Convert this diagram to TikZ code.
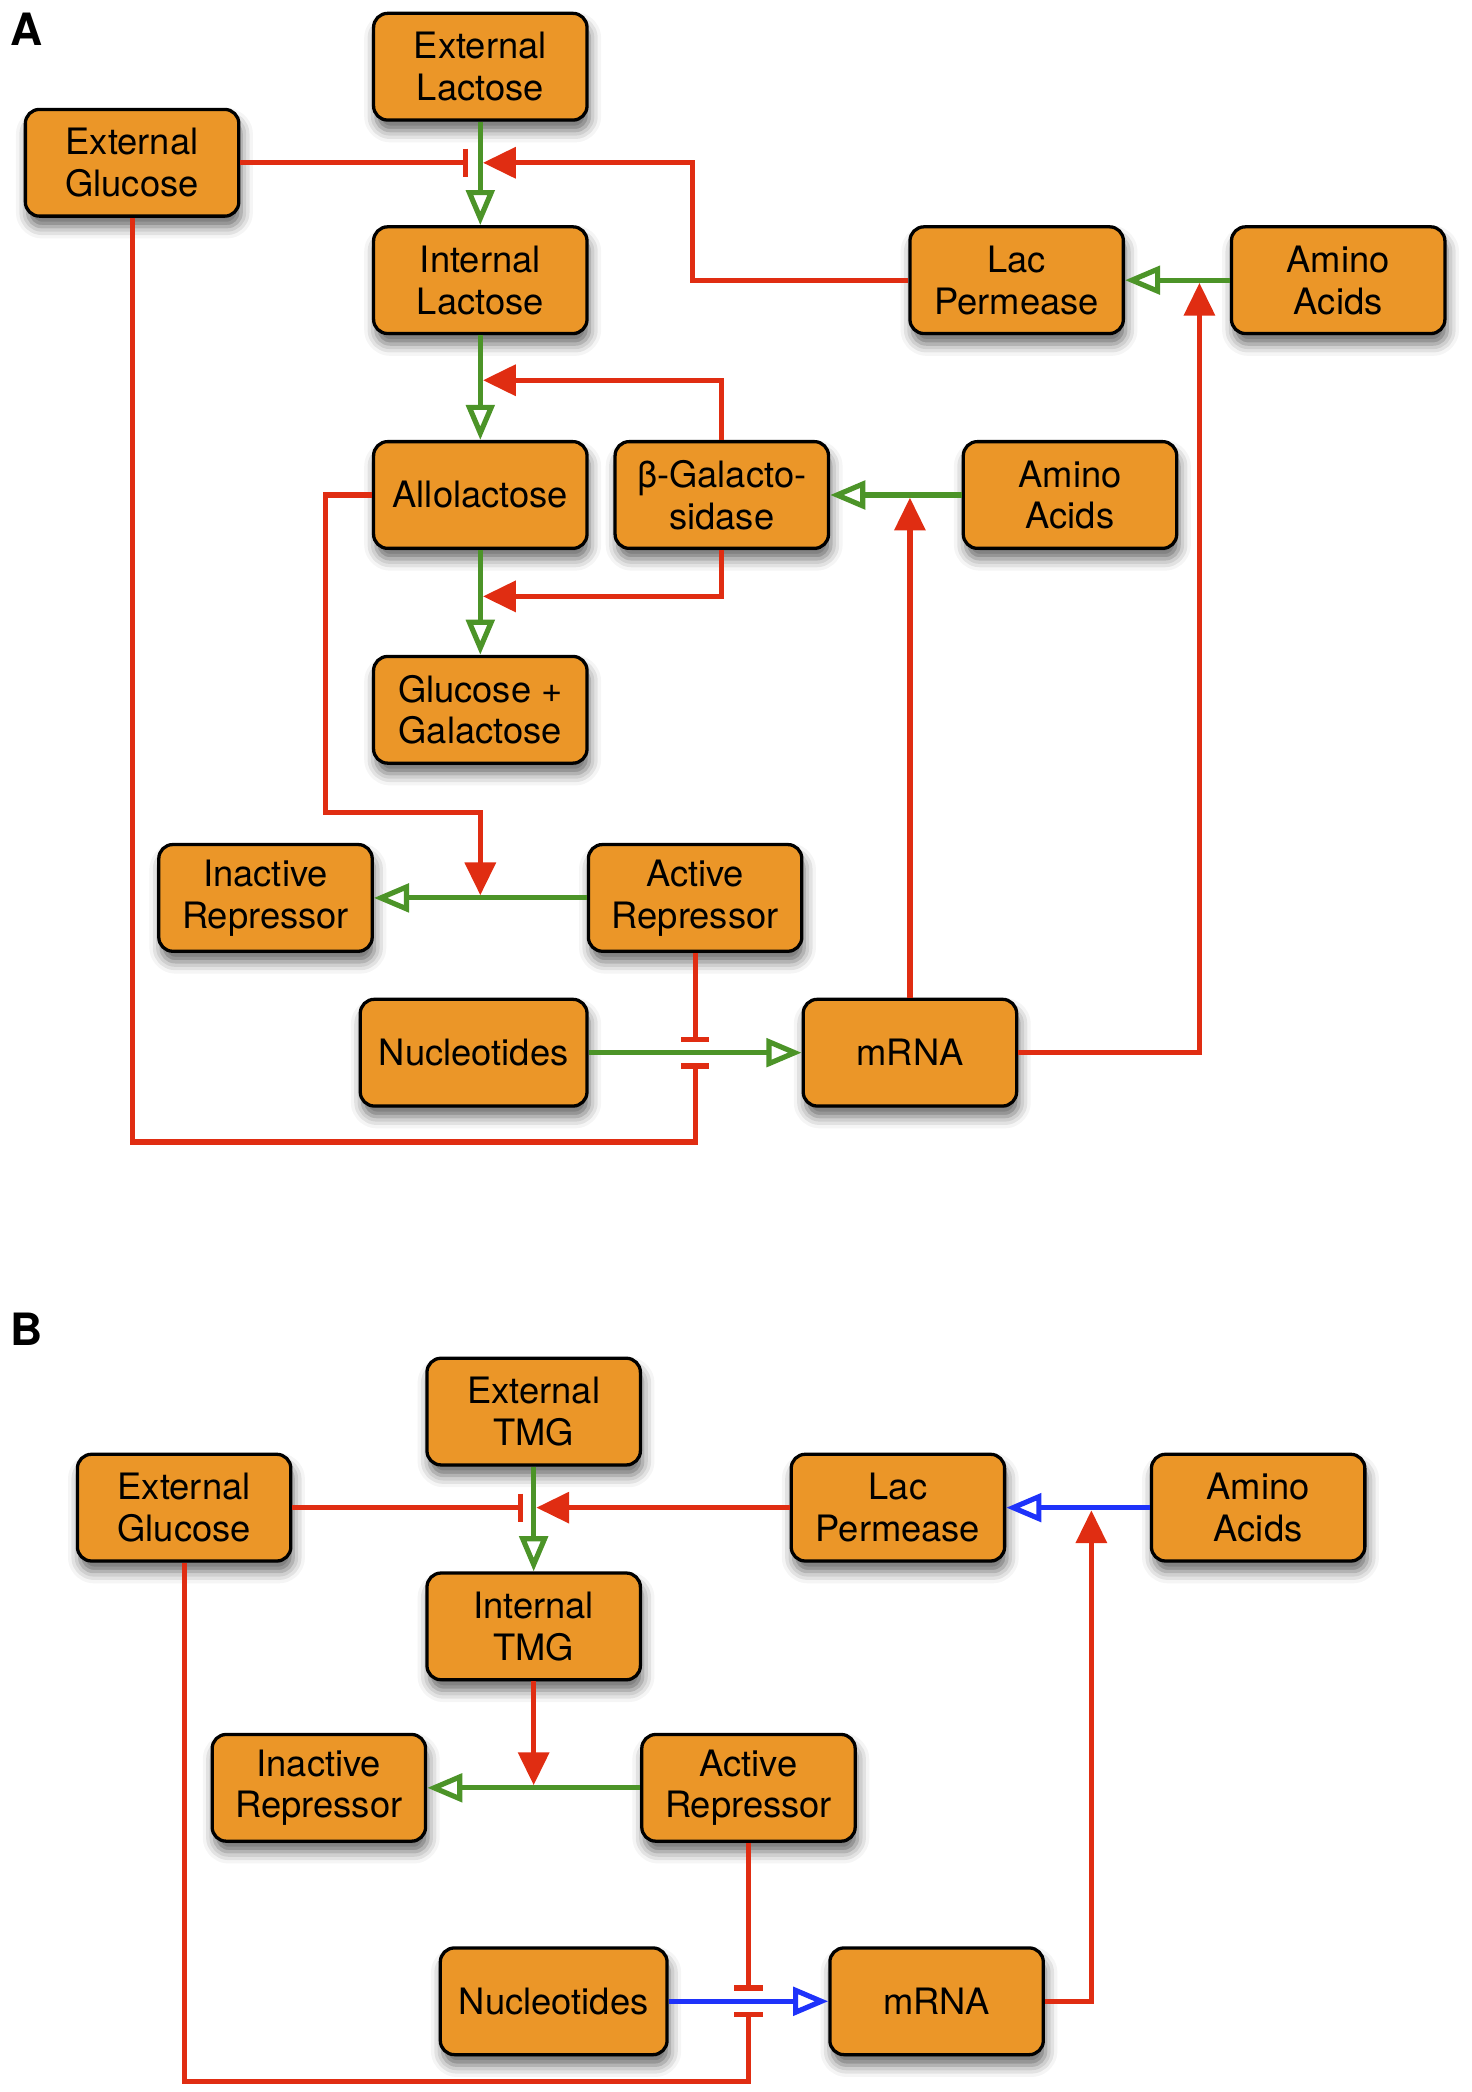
\documentclass[tikz,border=0pt]{standalone}
\usepackage{fontspec}
\setmainfont{TeX Gyre Heros}
\usetikzlibrary{arrows.meta,shadows.blur}
\definecolor{boxor}{RGB}{235,150,40}
\definecolor{rd}{RGB}{224,45,18}
\definecolor{grn}{RGB}{76,148,40}
\definecolor{blu}{RGB}{30,50,250}
\tikzset{
  box/.style={draw=black, line width=1.4pt, rounded corners=6pt, fill=boxor,
    minimum width=3.2cm, minimum height=1.6cm, align=center, inner sep=0pt,
    font=\fontsize{15.5}{17.8}\selectfont,
    blur shadow={shadow xshift=1pt, shadow yshift=-4.5pt, shadow blur radius=5pt, shadow opacity=60}},
  act/.style={draw=grn, line width=2.2pt, -{Triangle[open, length=15pt, width=12pt, line width=2.2pt]}},
  bact/.style={draw=blu, line width=2.2pt, -{Triangle[open, length=15pt, width=12pt, line width=2.2pt]}},
  cat/.style={draw=rd, line width=2.2pt, -{Triangle[length=14pt, width=13pt, fill=rd]}},
  inh/.style={draw=rd, line width=2.2pt, -{Bar[width=12pt, line width=2.2pt]}},
  plabel/.style={font=\fontsize{19}{22}\selectfont\bfseries, inner sep=0pt}
}
\begin{document}
\begin{tikzpicture}[x=0.02cm, y=-0.02cm]
\useasboundingbox (0,0) rectangle (1103,1568);
% ---------------- Panel A ----------------
\node[plabel] (labA) at (20,22) {A};
\node[box] (elac) at (360,50) {External\\Lactose};
\node[box] (eglu) at (99,122) {External\\Glucose};
\node[box] (ilac) at (360,210) {Internal\\Lactose};
\node[box] (lacp) at (762,210) {Lac\\Permease};
\node[box] (amiA) at (1003,210) {Amino\\Acids};
\node[box] (allo) at (360,371) {Allolactose};
\node[box] (bgal) at (541,371) {β-Galacto-\\sidase};
\node[box] (amiB) at (802,371) {Amino\\Acids};
\node[box] (glga) at (360,532) {Glucose +\\Galactose};
\node[box] (irep) at (199,673) {Inactive\\Repressor};
\node[box] (arep) at (521,673) {Active\\Repressor};
\node[box, minimum width=3.4cm] (nucl) at (355,789) {Nucleotides};
\node[box] (mrna) at (682,789) {mRNA};

\coordinate (jA1) at (351,122);
\coordinate (jA2) at (362,122);
\coordinate (jA3) at (362,285);
\coordinate (jA4) at (362,447);
\coordinate (jA5) at (682,373);
\coordinate (jA6) at (899,212);
\coordinate (jA7) at (360,671);
\coordinate (jA8) at (521,781);
\coordinate (jA9) at (521,797);

\draw[act] (elac) -- (ilac);
\draw[act] (ilac) -- (allo);
\draw[act] (allo) -- (glga);
\draw[act] (amiB) -- (bgal);
\draw[act] (amiA) -- (lacp);
\draw[act] (arep) -- (irep);
\draw[act] (nucl) -- (mrna);

\draw[inh] (eglu.east) -- (jA1);
\draw[cat] (lacp.west) -| (519,150) |- (jA2);
\draw[cat] (bgal.north) |- (jA3);
\draw[cat] (bgal.south) |- (jA4);
\draw[cat] (mrna.north) -- (jA5);
\draw[cat] (mrna.east) -| (jA6);
\draw[cat] (allo.west) -| (244,500) |- (300,609) -| (jA7);
\draw[inh] (arep.south) -- (jA8);
\draw[inh] (eglu.south) |- (300,856) -| (jA9);

% ---------------- Panel B ----------------
\node[plabel] (labB) at (20,996) {B};
\node[box] (etmg) at (400,1058) {External\\TMG};
\node[box] (egluB) at (138,1130) {External\\Glucose};
\node[box] (lacpB) at (673,1130) {Lac\\Permease};
\node[box] (amiC) at (943,1130) {Amino\\Acids};
\node[box] (itmg) at (400,1219) {Internal\\TMG};
\node[box] (irepB) at (239,1340) {Inactive\\Repressor};
\node[box] (arepB) at (561,1340) {Active\\Repressor};
\node[box, minimum width=3.4cm] (nuclB) at (415,1500) {Nucleotides};
\node[box] (mrnaB) at (702,1500) {mRNA};

\coordinate (jB1) at (392,1130);
\coordinate (jB2) at (402,1130);
\coordinate (jB3) at (818,1132);
\coordinate (jB4) at (400,1338);
\coordinate (jB5) at (561,1492);
\coordinate (jB6) at (561,1508);

\draw[act] (etmg) -- (itmg);
\draw[bact] (amiC) -- (lacpB);
\draw[act] (arepB) -- (irepB);
\draw[bact] (nuclB) -- (mrnaB);

\draw[inh] (egluB.east) -- (jB1);
\draw[cat] (lacpB.west) -- (jB2);
\draw[cat] (mrnaB.east) -| (jB3);
\draw[cat] (itmg.south) -- (jB4);
\draw[inh] (arepB.south) -- (jB5);
\draw[inh] (egluB.south) |- (300,1560) -| (jB6);
\end{tikzpicture}
\end{document}
